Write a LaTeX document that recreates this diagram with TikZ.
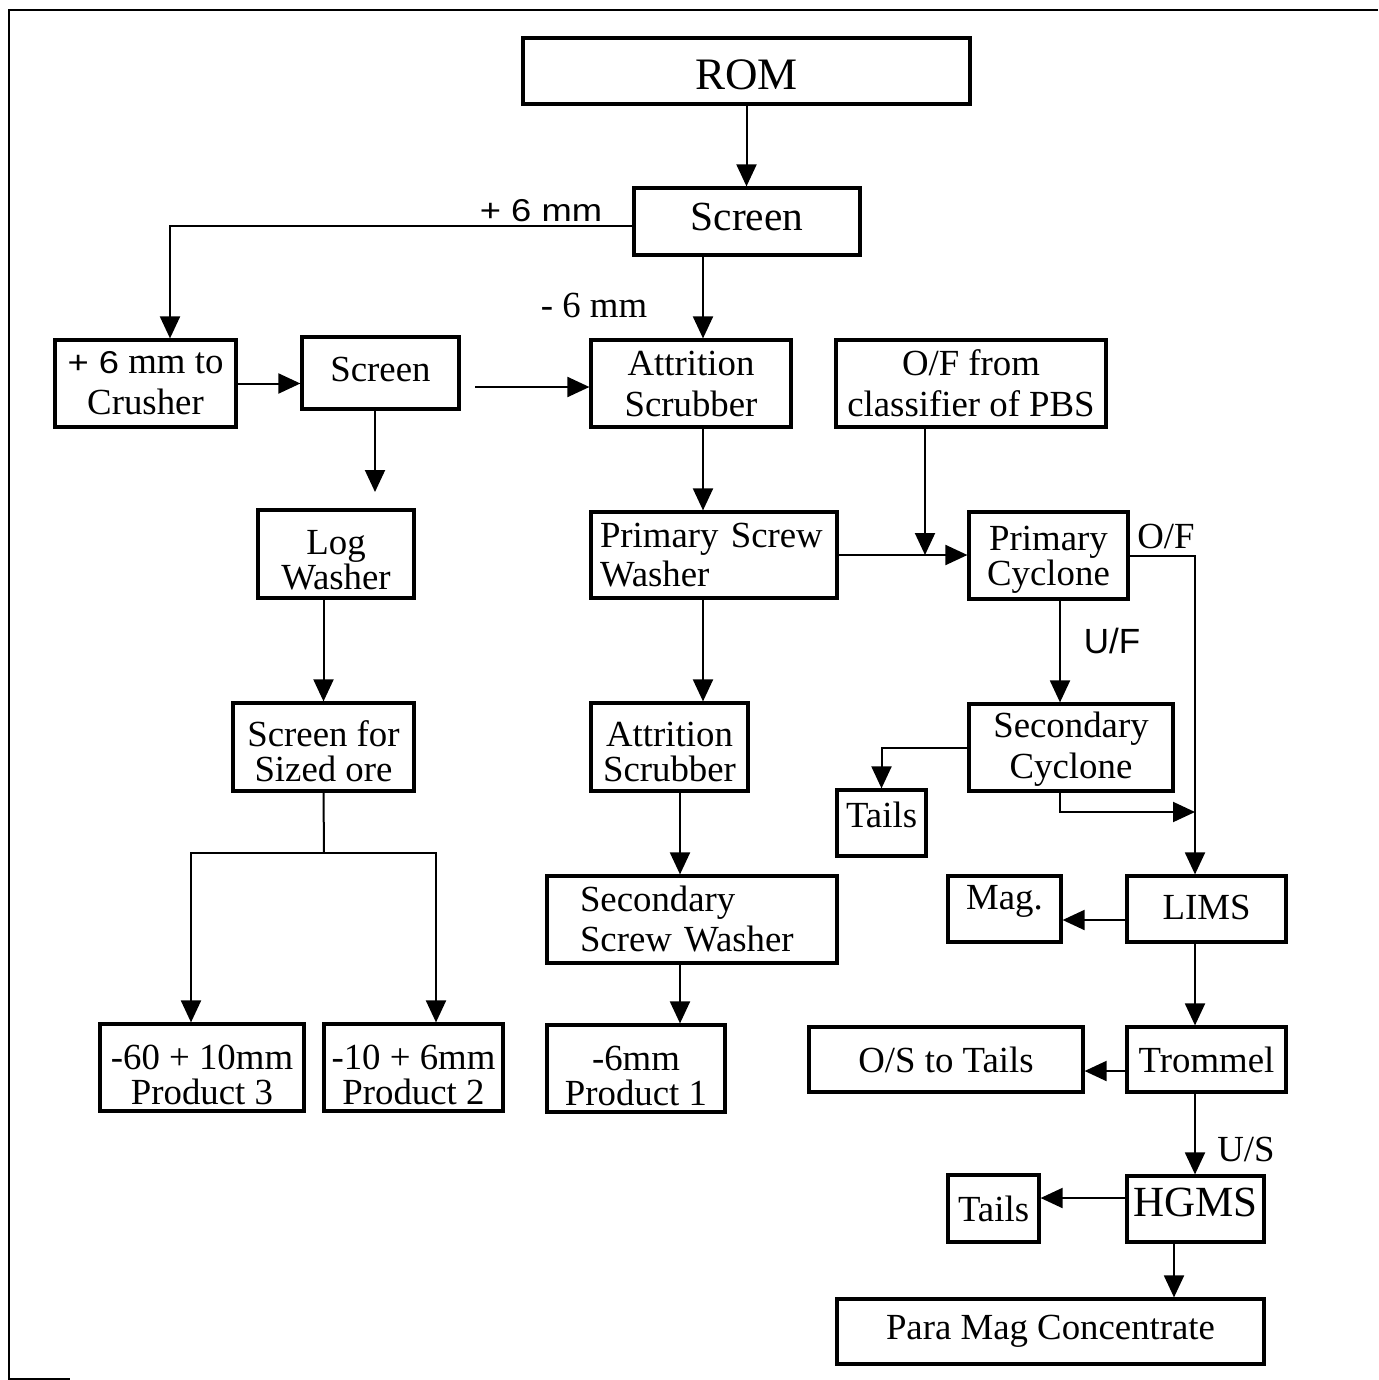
\documentclass[tikz,border=0pt]{standalone}
\usepackage{fontspec}
\setmainfont{Liberation Serif}
\newfontfamily\arialf{Liberation Sans}
\newfontfamily\arialw[FakeStretch=1.15]{Liberation Sans}
\usetikzlibrary{arrows.meta,calc}
\newcommand\dnst[1]{\rule{0pt}{#1pt}}
\newcommand\upst[1]{\rule[-#1pt]{0pt}{#1pt}}
\newcommand\bsk[1]{\fontsize{18.4}{#1pt}\selectfont}
\begin{document}
\begin{tikzpicture}[x=0.5pt,y=-0.5pt,
  box/.style={draw,line width=1.6pt,inner sep=0pt,align=center,font=\fontsize{18.4}{20.5}\selectfont},
  sz/.style 2 args={minimum width=#1pt,minimum height=#2pt},
  arr/.style={line width=1pt,-{Triangle[length=11pt,width=10pt]}},
  ln/.style={line width=1pt},
  lbl/.style={inner sep=0pt,font=\fontsize{18.4}{20.5}\selectfont}]
\useasboundingbox (0,0) rectangle (1378,1380);
% frame
\draw[line width=1.2pt] (1378,10) -- (9,10) -- (9,1379) -- (70,1379);
% boxes
\node[box,sz={223.5}{33},font=\fontsize{22.5}{24}\selectfont] (rom) at (746.5,71) {\dnst{19.2}ROM};
\node[box,sz={113}{33.5},font=\fontsize{20.7}{22}\selectfont] (scr1) at (747,221.5) {\upst{5.2}Screen};
\node[box,sz={90.5}{43.5}] (crush) at (145.5,383.5) {{\arialw\fontsize{15.8}{18}\selectfont + 6} mm to\\Crusher};
\node[box,sz={78.5}{36}] (scr2) at (380.5,373) {\upst{3.2}Screen};
\node[box,sz={100}{43.5}] (att1) at (691,383.5) {Attrition\\Scrubber};
\node[box,sz={135}{43.5}] (ofc) at (971,383.5) {O/F from\\classifier of PBS};
\node[box,sz={78}{44},font=\bsk{17.5}] (log) at (336,554) {\dnst{18.6}Log\\Washer};
\node[box,sz={123}{43},align=left,text width=114pt,inner xsep=4.5pt,font=\bsk{19.5}] (psw) at (714,555) {Primary Screw\\Washer};
\node[box,sz={79.5}{43.5},font=\bsk{17.5}] (pcy) at (1048.5,555.5) {\dnst{16.2}Primary\\Cyclone};
\node[box,sz={90.5}{44},font=\bsk{17.5}] (sfs) at (323.5,747) {\dnst{17.1}Screen for\\Sized ore};
\node[box,sz={78.5}{44},font=\bsk{17.5}] (att2) at (669.5,747) {\dnst{16.9}Attrition\\Scrubber};
\node[box,sz={102}{43.5}] (scy) at (1071,747.5) {\dnst{14.6}Secondary\\Cyclone};
\node[box,sz={44.5}{33}] (tail1) at (881.5,823) {Tails\upst{8}};
\node[box,sz={145}{43.5},align=left,text width=112pt,inner xsep=16.5pt,font=\bsk{20}] (ssw) at (692,919.5) {Secondary\\Screw Washer};
\node[box,sz={56.5}{33}] (mag) at (1004.5,909) {Mag.\upst{12}};
\node[box,sz={79.5}{33}] (lims) at (1206.5,909) {LIMS\upst{2}};
\node[box,sz={102}{43.5},font=\bsk{17.5}] (p3) at (202,1067.5) {\dnst{19.4}-60 + 10mm\\Product 3};
\node[box,sz={89.5}{43.5},font=\bsk{17.5}] (p2) at (413.5,1067.5) {\dnst{19.4}-10 + 6mm\\Product 2};
\node[box,sz={89}{43.5},font=\bsk{17.5}] (p1) at (636,1068.5) {\dnst{19.4}-6mm\\Product 1};
\node[box,sz={137}{32.5}] (ost) at (946,1059.5) {O/S to Tails};
\node[box,sz={79.5}{32.5}] (trom) at (1206.5,1059.5) {Trommel};
\node[box,sz={45.5}{33.5}] (tail2) at (993.5,1208.5) {Tails};
\node[box,sz={68.5}{33},font=\fontsize{21.5}{23}\selectfont] (hgms) at (1195.5,1209) {HGMS\upst{7}};
\node[box,sz={213.5}{32.5}] (pmc) at (1050.5,1331.5) {Para Mag Concentrate};
% labels
\node[lbl,font=\arialw\fontsize{15.8}{18}\selectfont] (l6p) at (541,211) {+ 6 mm};
\node[lbl] (l6m) at (594,305) {- 6 mm};
\node[lbl] (lof) at (1166,536) {O/F};
\node[lbl,font=\arialf\fontsize{17.5}{20}\selectfont] (luf) at (1112,641) {U/F};
\node[lbl] (lus) at (1246,1149) {U/S};
% helper coordinates
\coordinate (c170) at (170,0);
\coordinate (c703) at (703,0);
\coordinate (c1060) at (1060,0);
\coordinate (c1195) at (1195,0);
\coordinate (c191) at (191,0);
\coordinate (c436) at (436,0);
\coordinate (c680) at (680,0);
\coordinate (c1174) at (1174,0);
\coordinate (y920) at (0,920);
\coordinate (y1071) at (0,1071);
\coordinate (y1198) at (0,1198);
\coordinate (s2o) at (475,387);
\coordinate (login) at (375,492);
\coordinate (j1) at (925,555);
\coordinate (j2) at (1195,812);
\coordinate (j3) at (324,853);
% connectors
\draw[arr] (rom.south) -- (rom.south |- scr1.north);
\draw[arr] ($(scr1.west)+(0,4.5)$) -| (crush.north -| c170);
\draw[arr] (scr1.south -| c703) -- (att1.north -| c703);
\draw[arr] (crush.east) -- (crush.east -| scr2.west);
\draw[arr] (s2o) -- (s2o -| att1.west);
\draw[arr] (scr2.south -| login) -- (login);
\draw[arr] (att1.south -| c703) -- (psw.north -| c703);
\draw[arr] (ofc.south -| j1) -- (j1);
\draw[arr] (psw.east) -- (psw.east -| pcy.west);
\draw[arr] (pcy.east) -| (lims.north -| c1195);
\draw[arr] (pcy.south -| c1060) -- (scy.north -| c1060);
\draw[arr] (scy.west) -| (tail1.north);
\draw[arr] (scy.south -| c1060) |- (j2);
\draw[arr] (log.south -| sfs.north) -- (sfs.north);
\draw[arr] (psw.south -| c703) -- (att2.north -| c703);
\draw[ln] (sfs.south) -- (j3);
\draw[arr] (j3) -| (p3.north -| c191);
\draw[arr] (j3) -| (p2.north -| c436);
\draw[arr] (att2.south -| c680) -- (ssw.north -| c680);
\draw[arr] (ssw.south -| c680) -- (p1.north -| c680);
\draw[arr] (lims.west |- y920) -- (mag.east |- y920);
\draw[arr] (lims.south -| c1195) -- (trom.north -| c1195);
\draw[arr] (trom.west |- y1071) -- (ost.east |- y1071);
\draw[arr] (trom.south -| c1195) -- (hgms.north -| c1195);
\draw[arr] (hgms.west |- y1198) -- (tail2.east |- y1198);
\draw[arr] (hgms.south -| c1174) -- (pmc.north -| c1174);
\end{tikzpicture}
\end{document}
